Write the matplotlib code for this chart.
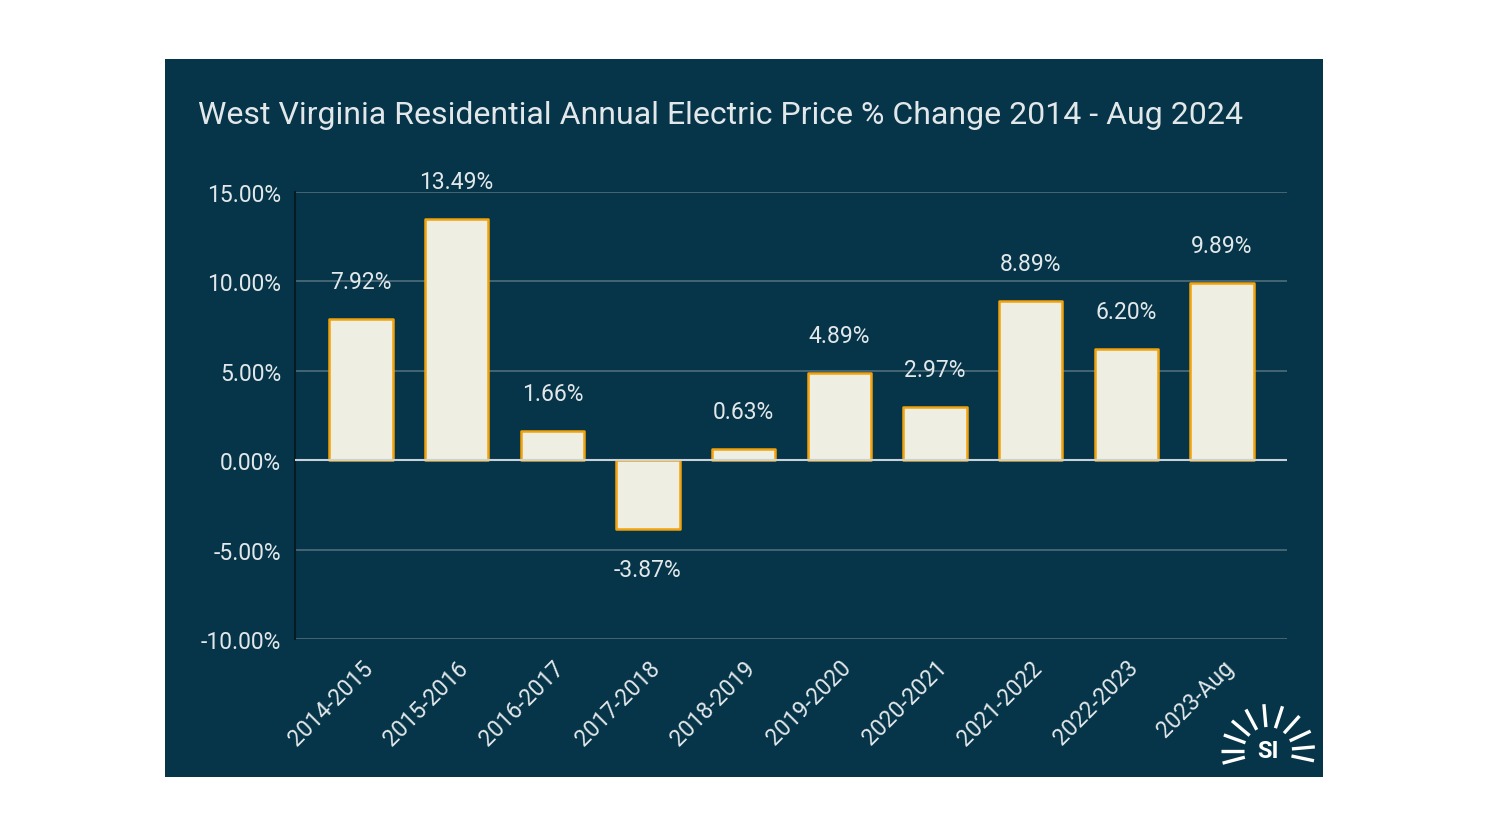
import numpy as np
import matplotlib.pyplot as plt

plt.rcParams['font.family'] = ['Roboto', 'DejaVu Sans']

periods = ['2014-2015', '2015-2016', '2016-2017', '2017-2018', '2018-2019',
           '2019-2020', '2020-2021', '2021-2022', '2022-2023', '2023-Aug']
pct_change = [7.92, 13.49, 1.66, -3.87, 0.63, 4.89, 2.97, 8.89, 6.20, 9.89]
yticks = [-10, -5, 0, 5, 10, 15]

panel_col = '#063549'
bar_col = '#EEEEE2'
edge_col = '#F2A20A'
text_col = '#E2E8EA'

W, H = 1488, 837
fig = plt.figure(figsize=(W / 100, H / 100), dpi=100, facecolor='white')

# dark panel behind the chart
bg = fig.add_axes([165 / W, 1 - 778 / H, (1323 - 165) / W, (778 - 60) / H], zorder=0)
bg.set_facecolor(panel_col)
bg.set_xticks([])
bg.set_yticks([])
for s in bg.spines.values():
    s.set_visible(False)

ax = fig.add_axes([295 / W, 1 - 640 / H, (1287 - 295) / W, (640 - 193) / H], zorder=2)
ax.set_facecolor('none')

x = np.arange(len(periods))
ax.bar(x, pct_change, width=0.66, color=bar_col, edgecolor=edge_col,
       linewidth=1.8, zorder=3, joinstyle='round')

for xi, v in zip(x, pct_change):
    off = 27 if v >= 0 else -29
    ax.annotate(f'{v:.2f}%', (xi, v), xytext=(0, off), textcoords='offset points',
                ha='center', va='center', fontsize=16.5, color=text_col, zorder=4)

ax.set_xlim(-0.69, 9.68)
ax.set_ylim(-10, 15)
ax.set_yticks(yticks)
ax.set_yticklabels([f'{t:.2f}%' for t in yticks], fontsize=16.5, color=text_col)
for t in yticks:
    if t == 0:
        ax.axhline(0, color='#C9D2D6', linewidth=1.5, zorder=4)
    else:
        ax.axhline(t, color='#4F6D7B', linewidth=1.2, zorder=1)

ax.set_xticks(x)
ax.set_xticklabels(periods, rotation=45, ha='right', rotation_mode='anchor',
                   fontsize=16.5, color=text_col)
ax.tick_params(length=0)
ax.tick_params(axis='x', pad=12)
ax.tick_params(axis='y', pad=10)

for s in ['top', 'right', 'bottom']:
    ax.spines[s].set_visible(False)
ax.spines['left'].set_color('#0A1A22')
ax.spines['left'].set_linewidth(1.5)

fig.text(198 / W, 1 - 115 / H,
         'West Virginia Residential Annual Electric Price % Change 2014 - Aug 2024',
         fontsize=23, color=text_col, ha='left', va='center')

# small "SI" sun logo, bottom right
cx, cy = 1268, 752
for ang in [195, 180, 160, 140, 118, 95, 72, 48, 25, 5, -12]:
    a = np.deg2rad(ang)
    r0, r1 = 24, 47
    xs = [(cx + r0 * np.cos(a)) / W, (cx + r1 * np.cos(a)) / W]
    ys = [1 - (cy - r0 * np.sin(a)) / H, 1 - (cy - r1 * np.sin(a)) / H]
    fig.add_artist(plt.Line2D(xs, ys, transform=fig.transFigure, color='white',
                              linewidth=2.4, solid_capstyle='butt'))
fig.text(cx / W, 1 - cy / H, 'SI', fontsize=17, fontweight='bold', color='white',
         ha='center', va='center')

fig.savefig('out.png', dpi=100, facecolor='white')
